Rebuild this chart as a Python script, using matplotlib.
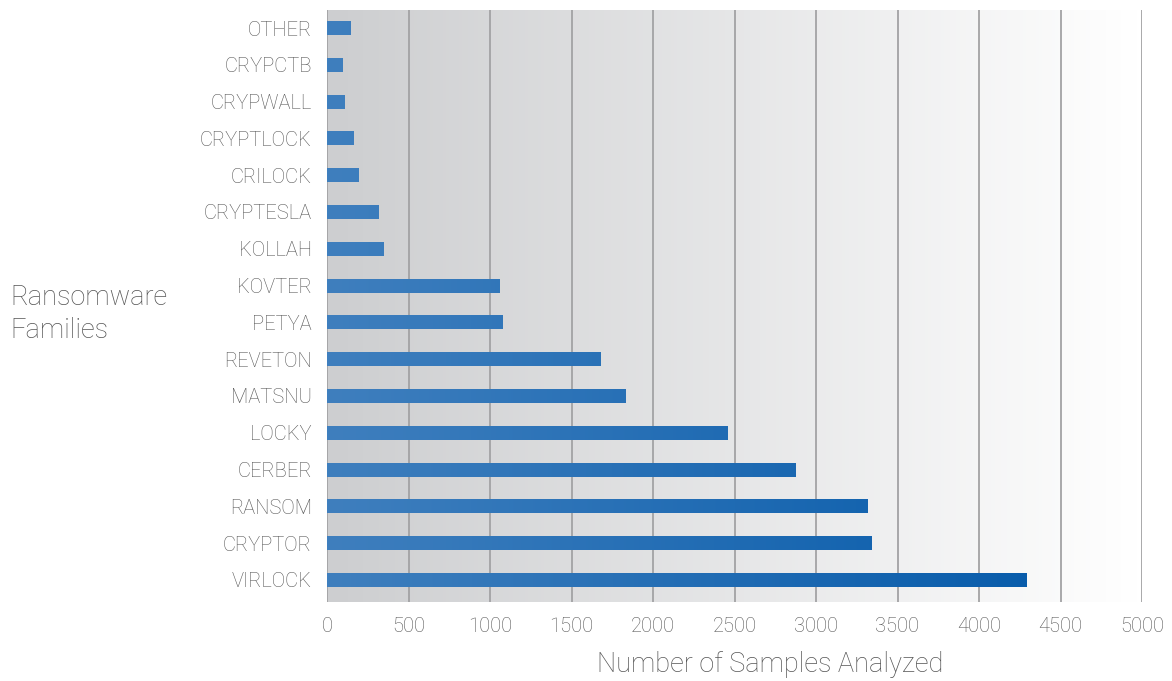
import numpy as np
import matplotlib
matplotlib.use("Agg")
import matplotlib.pyplot as plt
from matplotlib.colors import LinearSegmentedColormap

families = ["VIRLOCK", "CRYPTOR", "RANSOM", "CERBER", "LOCKY", "MATSNU", "REVETON",
            "PETYA", "KOVTER", "KOLLAH", "CRYPTESLA", "CRILOCK", "CRYPTLOCK",
            "CRYPWALL", "CRYPCTB", "OTHER"]
samples = [4294, 3340, 3319, 2877, 2460, 1834, 1675,
           1074, 1061, 344, 313, 192, 160, 110, 98, 145]
xticks = [0, 500, 1000, 1500, 2000, 2500, 3000, 3500, 4000, 4500, 5000]

plt.rcParams['font.family'] = ['Roboto', 'DejaVu Sans']
txt = "#555555"

fig = plt.figure(figsize=(11.72, 6.81), dpi=100)
ax = fig.add_axes([327/1172, 1-602/681, (1142-327)/1172, 592/681])
xmax = 5000
ylo, yhi = -0.6, len(families) - 0.51
ax.set_xlim(0, xmax)
ax.set_ylim(ylo, yhi)

# background gradient
bg = LinearSegmentedColormap.from_list("bg", ["#cdced0", "#ffffff"])
grad = np.linspace(0, 1, 256).reshape(1, -1)
ax.imshow(grad, cmap=bg, aspect="auto", extent=[0, xmax, ylo, yhi], zorder=0,
          interpolation="bicubic")

# gridlines
for t in xticks:
    ax.axvline(t, color="#a2a2a4", lw=1.3, zorder=1)

# bars with horizontal gradient
barcm = LinearSegmentedColormap.from_list("bar", ["#3f7fbe", "#0057a8"])
h = 0.38
for i, v in enumerate(samples):
    g = np.linspace(0, v / xmax, 256).reshape(1, -1)
    ax.imshow(g, cmap=barcm, vmin=0, vmax=1, aspect="auto",
              extent=[0, v, i - h/2, i + h/2], zorder=2, interpolation="bicubic")
ax.set_xlim(0, xmax)
ax.set_ylim(ylo, yhi)

ax.set_yticks(range(len(families)))
ax.set_yticklabels(families)
ax.set_xticks(xticks)
ax.set_xticklabels([str(t) for t in xticks])
ax.tick_params(axis="both", length=0, labelsize=14.5, labelcolor=txt)
ax.tick_params(axis="y", pad=11)
ax.tick_params(axis="x", pad=11)
for lab in ax.get_xticklabels() + ax.get_yticklabels():
    lab.set_fontweight("light")
for s in ax.spines.values():
    s.set_visible(False)

fig.text(770/1172, 1-665/681, "Number of Samples Analyzed", fontsize=19.5, color=txt,
         fontweight="light", ha="center", va="center")
fig.text(10/1172, 1-314/681, "Ransomware\nFamilies", fontsize=19.5, color=txt,
         fontweight="light", ha="left", va="center", linespacing=1.25)

fig.savefig("out.png", dpi=100)
